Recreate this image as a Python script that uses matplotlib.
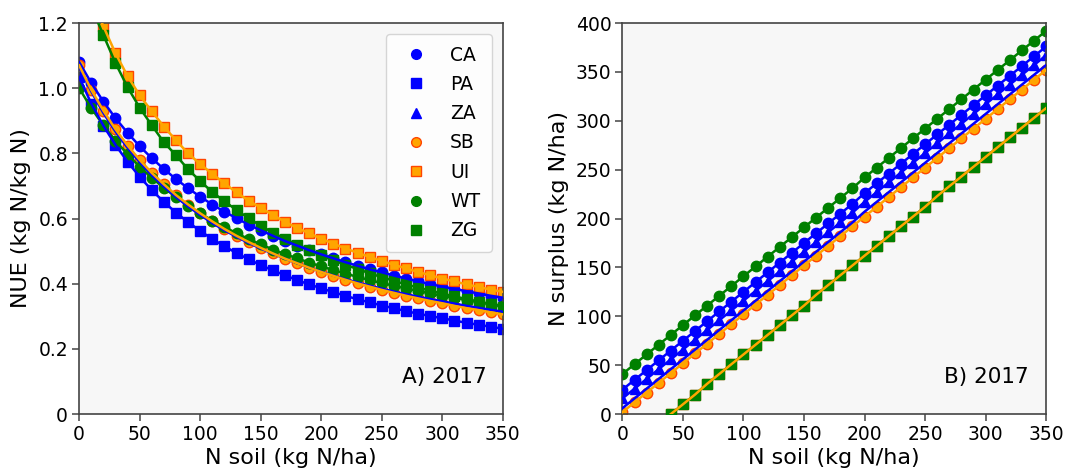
import matplotlib
matplotlib.use("Agg")
import matplotlib.pyplot as plt
from matplotlib.lines import Line2D
from matplotlib.ticker import FixedLocator, FixedFormatter

# ---------------- data ----------------
n_soil = [0, 10, 20, 30, 40, 50, 60, 70, 80, 90, 100, 110, 120, 130, 140, 150, 160, 170,
          180, 190, 200, 210, 220, 230, 240, 250, 260, 270, 280, 290, 300, 310, 320, 330, 340, 350]

sites = ["CA", "PA", "ZA", "SB", "UI", "WT", "ZG"]

# Panel A: NUE (kg N / kg N)
nue_CA = [1.080, 1.016, 0.959, 0.908, 0.863, 0.822, 0.785, 0.752, 0.721, 0.693, 0.667, 0.643,
          0.621, 0.601, 0.581, 0.564, 0.547, 0.531, 0.517, 0.503, 0.490, 0.478, 0.466, 0.455,
          0.444, 0.435, 0.425, 0.416, 0.407, 0.399, 0.391, 0.384, 0.377, 0.370, 0.363, 0.357]
nue_PA = [1.034, 0.953, 0.885, 0.826, 0.774, 0.728, 0.687, 0.651, 0.618, 0.589, 0.562, 0.537,
          0.515, 0.494, 0.475, 0.457, 0.441, 0.426, 0.411, 0.398, 0.386, 0.374, 0.363, 0.352,
          0.343, 0.333, 0.325, 0.316, 0.308, 0.301, 0.294, 0.287, 0.280, 0.274, 0.268, 0.262]
nue_ZA = [1.066, 0.990, 0.924, 0.867, 0.817, 0.773, 0.733, 0.698, 0.666, 0.637, 0.611, 0.586,
          0.564, 0.544, 0.525, 0.508, 0.492, 0.477, 0.463, 0.449, 0.437, 0.425, 0.414, 0.404,
          0.394, 0.385, 0.376, 0.368, 0.360, 0.353, 0.346, 0.339, 0.332, 0.326, 0.320, 0.314]
nue_SB = [1.070, 0.995, 0.931, 0.874, 0.824, 0.780, 0.740, 0.705, 0.672, 0.643, 0.616, 0.591,
          0.568, 0.547, 0.528, 0.510, 0.493, 0.477, 0.463, 0.449, 0.436, 0.424, 0.412, 0.401,
          0.391, 0.381, 0.372, 0.363, 0.355, 0.347, 0.340, 0.332, 0.325, 0.319, 0.312, 0.306]
nue_UI = [1.370, 1.280, 1.190, 1.107, 1.037, 0.978, 0.929, 0.882, 0.840, 0.800, 0.767, 0.737,
          0.708, 0.680, 0.655, 0.633, 0.611, 0.590, 0.571, 0.555, 0.538, 0.523, 0.508, 0.495,
          0.482, 0.470, 0.458, 0.447, 0.436, 0.426, 0.416, 0.407, 0.398, 0.390, 0.382, 0.375]
nue_WT = [1.000, 0.939, 0.886, 0.839, 0.797, 0.759, 0.725, 0.694, 0.666, 0.640, 0.616, 0.594,
          0.574, 0.555, 0.537, 0.521, 0.505, 0.491, 0.478, 0.465, 0.453, 0.442, 0.431, 0.421,
          0.411, 0.402, 0.394, 0.385, 0.378, 0.370, 0.363, 0.356, 0.350, 0.343, 0.337, 0.331]
nue_ZG = [1.360, 1.250, 1.163, 1.077, 1.003, 0.940, 0.886, 0.834, 0.794, 0.751, 0.715, 0.681,
          0.653, 0.626, 0.601, 0.578, 0.557, 0.537, 0.520, 0.503, 0.487, 0.472, 0.458, 0.445,
          0.432, 0.420, 0.409, 0.398, 0.388, 0.379, 0.370, 0.361, 0.353, 0.345, 0.337, 0.330]

# Panel B: N surplus (kg N/ha)
sur_CA = [25, 35, 45, 55, 65, 75, 85, 95, 105, 115, 125, 135, 145, 155, 165, 175, 185, 195,
          205, 215, 226, 236, 246, 256, 266, 276, 286, 296, 306, 316, 326, 336, 346, 356, 366, 376]
sur_PA = [6, 16, 26, 36, 46, 56, 66, 76, 86, 96, 106, 116, 126, 136, 146, 156, 166, 176,
          186, 196, 207, 217, 227, 237, 247, 257, 267, 277, 287, 297, 307, 317, 327, 337, 347, 357]
sur_ZA = [16, 26, 36, 46, 56, 66, 76, 86, 96, 106, 116, 126, 136, 146, 156, 166, 176, 186,
          196, 206, 217, 227, 237, 247, 257, 267, 277, 287, 297, 307, 317, 327, 337, 347, 357, 367]
sur_SB = [2, 12, 22, 32, 42, 52, 62, 72, 82, 92, 102, 112, 122, 132, 142, 152, 162, 172,
          182, 192, 202, 212, 222, 232, 242, 252, 262, 272, 282, 292, 302, 312, 322, 332, 342, 352]
sur_UI = [-40, -30, -20, -10, 0, 10, 20, 31, 41, 51, 61, 71, 81, 91, 101, 111, 122, 132,
          142, 152, 162, 172, 182, 192, 202, 212, 223, 233, 243, 253, 263, 273, 283, 293, 303, 313]
sur_WT = [41, 51, 61, 71, 81, 91, 101, 111, 121, 131, 141, 151, 161, 171, 181, 191, 201, 211,
          221, 231, 242, 252, 262, 272, 282, 292, 302, 312, 322, 332, 342, 352, 362, 372, 382, 392]
sur_ZG = [-40, -30, -20, -10, 0, 10, 20, 31, 41, 51, 61, 71, 81, 91, 101, 111, 122, 132,
          142, 152, 162, 172, 182, 192, 202, 212, 223, 233, 243, 253, 263, 273, 283, 293, 303, 313]

nue = {"CA": nue_CA, "PA": nue_PA, "ZA": nue_ZA, "SB": nue_SB, "UI": nue_UI, "WT": nue_WT, "ZG": nue_ZG}
sur = {"CA": sur_CA, "PA": sur_PA, "ZA": sur_ZA, "SB": sur_SB, "UI": sur_UI, "WT": sur_WT, "ZG": sur_ZG}

# ---------------- styles ----------------
BLUE = "#0000ff"
ORANGE = "#ffa500"
ORANGE_EDGE = "#ff4500"
GREEN = "#008000"
style = {
    "CA": dict(marker="o", mfc=BLUE, mec=BLUE, line=BLUE),
    "PA": dict(marker="s", mfc=BLUE, mec=BLUE, line=BLUE),
    "ZA": dict(marker="^", mfc=BLUE, mec=BLUE, line=BLUE),
    "SB": dict(marker="o", mfc=ORANGE, mec=ORANGE_EDGE, line=ORANGE),
    "UI": dict(marker="s", mfc=ORANGE, mec=ORANGE_EDGE, line=ORANGE),
    "WT": dict(marker="o", mfc=GREEN, mec=GREEN, line=GREEN),
    "ZG": dict(marker="s", mfc=GREEN, mec=GREEN, line=GREEN),
}
line_order = ["WT", "ZG", "CA", "PA", "ZA", "SB", "UI"]
MS = 7.5

fig = plt.figure(figsize=(10.92, 4.70), dpi=100)
axA = fig.add_axes([0.0725, 0.119, 0.388, 0.832])
axB = fig.add_axes([0.570, 0.119, 0.388, 0.832])

for ax in (axA, axB):
    ax.set_facecolor("#f7f7f7")
    for sp in ax.spines.values():
        sp.set_color("#444444")
        sp.set_linewidth(1.2)
    ax.tick_params(direction="out", length=5, width=1.1, color="#444444",
                   labelsize=13.5, pad=3)

# Panel A markers
hideA = {"ZA"}
for i, s in enumerate(sites):
    st = style[s]
    if s not in hideA:
        axA.plot(n_soil, nue[s], linestyle="none", marker=st["marker"], markersize=MS,
                 markerfacecolor=st["mfc"], markeredgecolor=st["mec"], markeredgewidth=1.0,
                 zorder=2 + i * 0.1)
for s in line_order:
    axA.plot(n_soil, nue[s], color=style[s]["line"], lw=1.8, zorder=4)

# Panel B markers
hideB = {"PA"}
for i, s in enumerate(sites):
    st = style[s]
    if s not in hideB:
        axB.plot(n_soil, sur[s], linestyle="none", marker=st["marker"], markersize=MS,
                 markerfacecolor=st["mfc"], markeredgecolor=st["mec"], markeredgewidth=1.0,
                 zorder=2 + i * 0.1)
for s in line_order:
    axB.plot(n_soil, sur[s], color=style[s]["line"], lw=1.8, zorder=4)

axA.set_xlim(0, 350)
axA.set_ylim(0, 1.2)
axA.xaxis.set_major_locator(FixedLocator([0, 50, 100, 150, 200, 250, 300, 350]))
axA.yaxis.set_major_locator(FixedLocator([0, 0.2, 0.4, 0.6, 0.8, 1.0, 1.2]))
axA.yaxis.set_major_formatter(FixedFormatter(["0", "0.2", "0.4", "0.6", "0.8", "1.0", "1.2"]))
axA.set_xlabel("N soil (kg N/ha)", fontsize=16, labelpad=2.5)
axA.set_ylabel("NUE (kg N/kg N)", fontsize=16, labelpad=5)
axA.text(0.962, 0.08, "A) 2017", transform=axA.transAxes, ha="right", va="baseline", fontsize=15.5)

axB.set_xlim(0, 350)
axB.set_ylim(0, 400)
axB.xaxis.set_major_locator(FixedLocator([0, 50, 100, 150, 200, 250, 300, 350]))
axB.yaxis.set_major_locator(FixedLocator([0, 50, 100, 150, 200, 250, 300, 350, 400]))
axB.set_xlabel("N soil (kg N/ha)", fontsize=16, labelpad=2.5)
axB.set_ylabel("N surplus (kg N/ha)", fontsize=16, labelpad=5)
axB.text(0.96, 0.08, "B) 2017", transform=axB.transAxes, ha="right", va="baseline", fontsize=15.5)

handles = [Line2D([], [], linestyle="none", marker=style[s]["marker"], markersize=MS - 0.5,
                  markerfacecolor=style[s]["mfc"], markeredgecolor=style[s]["mec"]) for s in sites]
axA.legend(handles, sites, loc="upper right", fontsize=13.5, labelspacing=0.55,
           borderaxespad=0.6, borderpad=0.6)

fig.savefig("out.png", dpi=100)
